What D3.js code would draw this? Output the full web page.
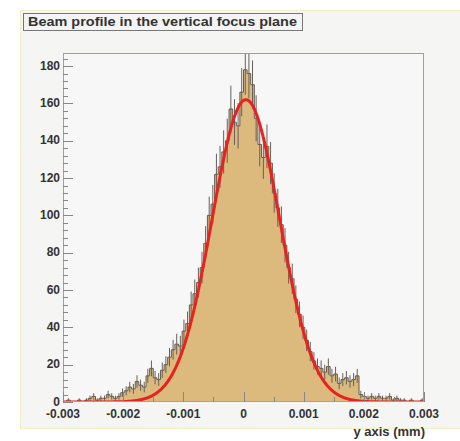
<!DOCTYPE html>
<html>
<head>
<meta charset="utf-8">
<script src="https://cdn.jsdelivr.net/npm/d3@7"></script>
<style>
  html, body { margin: 0; padding: 0; background: #ffffff; }
  svg { display: block; }
  text { font-family: "Liberation Sans", Arial, Helvetica, sans-serif; }
</style>
</head>
<body>
<svg id="chart" width="460" height="441"></svg>
<script>
// Histogram binning: 100 bins over [-0.003, 0.003] mm
const binLow = -0.003;
const binHigh = 0.003;
const binCount = 100;

// Entries per bin
const counts = [
  0, 1, 0, 0, 1, 0, 1, 2, 3, 1,
  2, 2, 4, 3, 2, 3, 5, 6, 8, 7,
  11, 9, 8, 14, 18, 13, 12, 17, 20, 24,
  28, 31, 30, 38, 42, 52, 58, 64, 72, 85,
  100, 106, 122, 126, 134, 140, 157, 150, 148, 166,
  178, 176, 170, 152, 138, 131, 137, 128, 112, 104,
  95, 84, 72, 66, 55, 47, 40, 33, 27, 22,
  19, 18, 16, 19, 14, 15, 10, 12, 13, 11,
  12, 14, 4, 3, 2, 3, 2, 3, 2, 2,
  3, 1, 2, 1, 1, 0, 1, 0, 0, 1
];

// Gaussian fit parameters
const fitConstant = 162;
const fitMean = 0.00004;
const fitSigma = 0.00056;

// Axis ticks and labels
const xTicks = [-0.003, -0.002, -0.001, 0, 0.001, 0.002, 0.003];
const xTickLabels = ["-0.003", "-0.002", "-0.001", "0", "0.001", "0.002", "0.003"];
const yTicks = [0, 20, 40, 60, 80, 100, 120, 140, 160, 180];
const yTickLabels = ["0", "20", "40", "60", "80", "100", "120", "140", "160", "180"];
const yMax = 187;

const titleText = "Beam profile in the vertical focus plane";
const xTitle = "y axis (mm)";

const svg = d3.select("#chart");
const frame = { left: 63, right: 424, top: 53, bottom: 402 };

const x = d3.scaleLinear().domain([binLow, binHigh]).range([frame.left, frame.right]);
const y = d3.scaleLinear().domain([0, yMax]).range([frame.bottom, frame.top]);
const binWidth = (binHigh - binLow) / binCount;

// Canvas pad
svg.append("rect")
  .attr("x", 20.5).attr("y", 10.5).attr("width", 445).attr("height", 418)
  .attr("fill", "#f5f5f4").attr("stroke", "#f2efc6").attr("stroke-width", 1);

// Frame background
svg.append("rect")
  .attr("x", frame.left).attr("y", frame.top)
  .attr("width", frame.right - frame.left).attr("height", frame.bottom - frame.top)
  .attr("fill", "#f7f7f7");

svg.append("clipPath").attr("id", "frameClip")
  .append("rect")
  .attr("x", frame.left).attr("y", frame.top)
  .attr("width", frame.right - frame.left).attr("height", frame.bottom - frame.top);

const plot = svg.append("g").attr("clip-path", "url(#frameClip)");

// Step outline points from bin edges
const bins = counts.map((c, i) => ({
  x0: binLow + i * binWidth,
  x1: binLow + (i + 1) * binWidth,
  v: c
}));
const stepPts = [];
bins.forEach(b => { stepPts.push([b.x0, b.v]); stepPts.push([b.x1, b.v]); });

plot.append("path")
  .datum(stepPts)
  .attr("fill", "#dcba7e")
  .attr("d", d3.area().x(d => x(d[0])).y0(y(0)).y1(d => y(d[1])));

plot.append("path")
  .datum(stepPts)
  .attr("fill", "none")
  .attr("stroke", "#655c50")
  .attr("stroke-width", 1)
  .attr("d", d3.line().x(d => x(d[0])).y(d => y(d[1])));

// Poisson error bars
plot.append("g").selectAll("line")
  .data(bins.filter(b => b.v > 0))
  .join("line")
  .attr("x1", b => x((b.x0 + b.x1) / 2))
  .attr("x2", b => x((b.x0 + b.x1) / 2))
  .attr("y1", b => y(b.v - Math.sqrt(b.v)))
  .attr("y2", b => y(b.v + Math.sqrt(b.v)))
  .attr("stroke", "#66605a")
  .attr("stroke-width", 1);

// Gaussian fit curve
const fitPts = d3.range(0, 601).map(k => {
  const xv = binLow + k * (binHigh - binLow) / 600;
  return [xv, fitConstant * Math.exp(-0.5 * Math.pow((xv - fitMean) / fitSigma, 2))];
});
plot.append("path")
  .datum(fitPts)
  .attr("fill", "none")
  .attr("stroke", "#e8231f")
  .attr("stroke-width", 3)
  .attr("stroke-linejoin", "round")
  .attr("d", d3.line().x(d => x(d[0])).y(d => y(d[1])));

// Frame border
svg.append("rect")
  .attr("x", frame.left + 0.5).attr("y", frame.top + 0.5)
  .attr("width", frame.right - frame.left - 1).attr("height", frame.bottom - frame.top - 1)
  .attr("fill", "none").attr("stroke", "#a0a0a0").attr("stroke-width", 1);

// Y axis: ticks drawn inward from the left edge
const yAxis = svg.append("g").attr("transform", `translate(${frame.left},0)`);
const yMinor = d3.range(0, yMax + 0.001, 4).filter(v => v % 20 !== 0);
yAxis.selectAll("line.minor").data(yMinor).join("line")
  .attr("class", "minor")
  .attr("x1", 0).attr("x2", 5)
  .attr("y1", d => Math.round(y(d)) + 0.5).attr("y2", d => Math.round(y(d)) + 0.5)
  .attr("stroke", "#888").attr("stroke-width", 1);
yAxis.selectAll("line.major").data(yTicks).join("line")
  .attr("class", "major")
  .attr("x1", 0).attr("x2", 10)
  .attr("y1", d => Math.round(y(d)) + 0.5).attr("y2", d => Math.round(y(d)) + 0.5)
  .attr("stroke", "#888").attr("stroke-width", 1);
yAxis.selectAll("text").data(yTicks).join("text")
  .attr("x", -3).attr("y", d => y(d) + 3.5)
  .attr("text-anchor", "end")
  .attr("font-size", 12).attr("font-weight", "bold").attr("fill", "#333")
  .text((d, i) => yTickLabels[i]);

// X axis: ticks drawn inward from the bottom edge
const xAxis = svg.append("g").attr("transform", `translate(0,${frame.bottom})`);
const xMinor = d3.range(-6, 7).map(k => k * 0.0005).filter((v, k) => k % 2 !== 0);
xAxis.selectAll("line.minor").data(xMinor).join("line")
  .attr("class", "minor")
  .attr("x1", d => Math.round(x(d)) + 0.5).attr("x2", d => Math.round(x(d)) + 0.5)
  .attr("y1", 0).attr("y2", -5)
  .attr("stroke", "#888").attr("stroke-width", 1);
xAxis.selectAll("line.major").data(xTicks).join("line")
  .attr("class", "major")
  .attr("x1", d => Math.round(x(d)) + 0.5).attr("x2", d => Math.round(x(d)) + 0.5)
  .attr("y1", 0).attr("y2", -10)
  .attr("stroke", "#888").attr("stroke-width", 1);
xAxis.selectAll("text").data(xTicks).join("text")
  .attr("x", d => x(d)).attr("y", 16)
  .attr("text-anchor", "middle")
  .attr("font-size", 12).attr("font-weight", "bold").attr("fill", "#333")
  .text((d, i) => xTickLabels[i]);

// X axis title
svg.append("text")
  .attr("x", frame.right + 1).attr("y", 436)
  .attr("text-anchor", "end")
  .attr("font-size", 13).attr("font-weight", "bold").attr("fill", "#333")
  .text(xTitle);

// Title box
svg.append("rect")
  .attr("x", 23.5).attr("y", 13.5).attr("width", 279).attr("height", 17)
  .attr("fill", "#f4f4f4").attr("stroke", "#777").attr("stroke-width", 1);
svg.append("text")
  .attr("x", 28).attr("y", 26)
  .attr("font-size", 12).attr("font-weight", "bold").attr("fill", "#333")
  .attr("textLength", 269).attr("lengthAdjust", "spacingAndGlyphs")
  .text(titleText);
</script>
</body>
</html>
